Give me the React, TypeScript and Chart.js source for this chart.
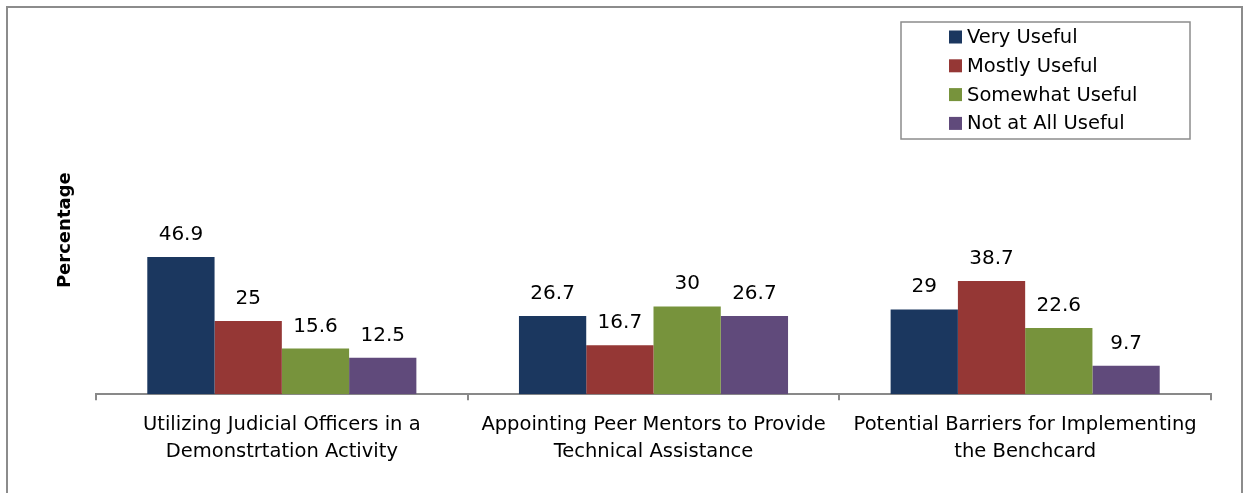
import React, { useEffect, useRef } from "react";
import { Chart, registerables } from "chart.js";

Chart.register(...registerables);

// Categories (multi-line axis labels)
const categories: string[][] = [
  ["Utilizing Judicial Officers in a", "Demonstrtation Activity"],
  ["Appointing Peer Mentors to Provide", "Technical Assistance"],
  ["Potential Barriers for Implementing", "the Benchcard"],
];

// Series
const seriesNames = ["Very Useful", "Mostly Useful", "Somewhat Useful", "Not at All Useful"];
const veryUseful = [46.9, 26.7, 29];
const mostlyUseful = [25, 16.7, 38.7];
const somewhatUseful = [15.6, 30, 22.6];
const notAtAllUseful = [12.5, 26.7, 9.7];
const seriesColors = ["#1b375f", "#953735", "#77933c", "#604a7b"];

const yAxisTitle = "Percentage";
const FONT = "'DejaVu Sans', 'Open Sans', sans-serif";

const decorations = {
  id: "decorations",
  beforeDraw(chart: Chart) {
    const { ctx, width, height } = chart;
    ctx.save();
    ctx.fillStyle = "#ffffff";
    ctx.fillRect(0, 0, width, height);
    ctx.restore();
  },
  afterDatasetsDraw(chart: Chart) {
    const { ctx } = chart;
    ctx.save();
    ctx.font = `20px ${FONT}`;
    ctx.fillStyle = "#000000";
    ctx.textAlign = "center";
    ctx.textBaseline = "alphabetic";
    chart.data.datasets.forEach((ds, i) => {
      const meta = chart.getDatasetMeta(i);
      meta.data.forEach((bar: any, j: number) => {
        const v = ds.data[j] as number;
        ctx.fillText(String(v), bar.x, bar.y - 17);
      });
    });
    ctx.restore();
  },
  afterDraw(chart: Chart) {
    const { ctx, chartArea, width } = chart;
    ctx.save();

    // outer frame
    ctx.strokeStyle = "#8c8c8c";
    ctx.lineWidth = 2;
    ctx.strokeRect(7, 7, width - 2 - 7, 500);

    // y-axis title
    ctx.save();
    ctx.translate(chartArea.left - 31, chartArea.bottom - 164);
    ctx.rotate(-Math.PI / 2);
    ctx.font = `bold 18px ${FONT}`;
    ctx.fillStyle = "#000000";
    ctx.textAlign = "center";
    ctx.textBaseline = "middle";
    ctx.fillText(yAxisTitle, 0, 0);
    ctx.restore();

    // legend box
    const boxRight = chartArea.right - 21;
    const boxW = 289;
    const boxL = boxRight - boxW;
    const boxT = 22;
    const boxH = 117;
    ctx.strokeStyle = "#8c8c8c";
    ctx.lineWidth = 1.5;
    ctx.strokeRect(boxL, boxT, boxW, boxH);

    ctx.font = `19.5px ${FONT}`;
    ctx.textAlign = "left";
    ctx.textBaseline = "middle";
    chart.data.datasets.forEach((ds, i) => {
      const cy = boxT + 15 + i * 28.8;
      ctx.fillStyle = ds.backgroundColor as string;
      ctx.fillRect(boxL + 48, cy - 6.5, 13, 13);
      ctx.fillStyle = "#000000";
      ctx.fillText(ds.label as string, boxL + 66, cy + 1);
    });

    ctx.restore();
  },
};

export default function App() {
  const canvasRef = useRef<HTMLCanvasElement | null>(null);

  useEffect(() => {
    if (!canvasRef.current) return;
    const seriesData = [veryUseful, mostlyUseful, somewhatUseful, notAtAllUseful];
    const chart = new Chart(canvasRef.current, {
      type: "bar",
      data: {
        labels: categories,
        datasets: seriesNames.map((name, i) => ({
          label: name,
          data: seriesData[i],
          backgroundColor: seriesColors[i],
          borderWidth: 0,
          categoryPercentage: 0.724,
          barPercentage: 1.0,
        })),
      },
      options: {
        responsive: false,
        animation: false,
        layout: { padding: { left: 96, right: 33, top: 248, bottom: 17 } },
        plugins: {
          legend: { display: false },
          tooltip: { enabled: false },
        },
        scales: {
          x: {
            grid: {
              display: true,
              drawOnChartArea: false,
              drawTicks: true,
              tickLength: 6,
              color: "#898989",
              lineWidth: 2,
              offset: true,
            },
            border: { display: true, color: "#898989", width: 2 },
            ticks: {
              font: { family: FONT, size: 19.5, lineHeight: 1.38 },
              color: "#000000",
              padding: 11,
              maxRotation: 0,
              autoSkip: false,
            },
          },
          y: {
            display: false,
            min: 0,
            max: 50,
          },
        },
      },
      plugins: [decorations],
    });
    return () => chart.destroy();
  }, []);

  return (
    <div style={{ position: "absolute", left: 0, top: 0, width: 1244, height: 493, background: "#fff" }}>
      <canvas ref={canvasRef} width={1244} height={493} style={{ display: "block" }} />
    </div>
  );
}
